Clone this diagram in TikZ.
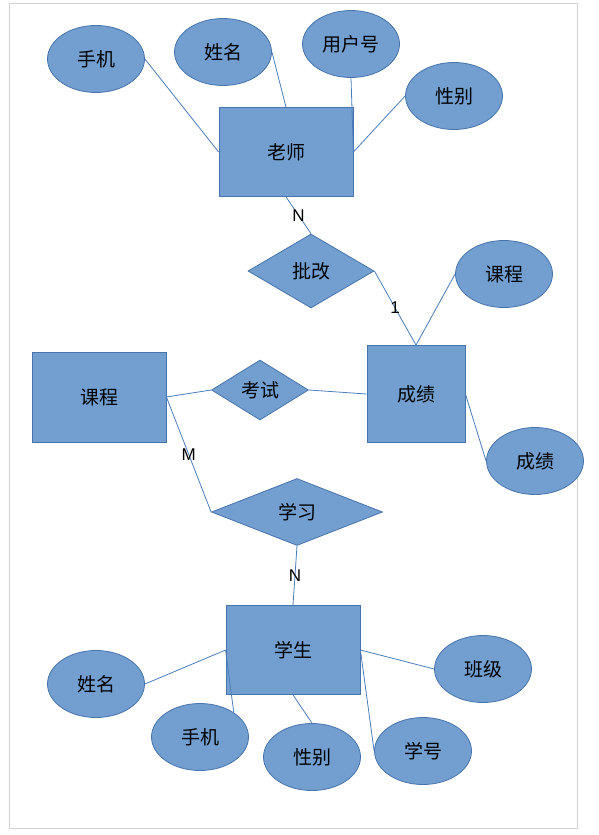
\documentclass[tikz,border=0pt]{standalone}
\usepackage{fontspec}
\setmainfont{Noto Sans CJK SC}
\newfontfamily\latinlbl{Liberation Sans}
\usepackage{tikz}
\usetikzlibrary{shapes,shapes.geometric,calc,positioning}
\definecolor{erfill}{RGB}{114,159,207}
\definecolor{erdraw}{RGB}{72,116,172}
\definecolor{erline}{RGB}{74,126,187}
\tikzset{ent/.style={rectangle,draw=erdraw,fill=erfill,line width=.8pt,inner sep=0pt,minimum width=134pt,minimum height=89pt,font=\fontsize{19}{22}\selectfont}}
\tikzset{att/.style={ellipse,draw=erdraw,fill=erfill,line width=.8pt,inner sep=0pt,minimum width=97pt,minimum height=67pt,font=\fontsize{19}{22}\selectfont}}
\tikzset{rel/.style={diamond,aspect=2,draw=erdraw,fill=erfill,line width=.8pt,inner sep=0pt,font=\fontsize{19}{22}\selectfont}}
\tikzset{lnk/.style={draw=erline,line width=.8pt}}
\tikzset{card/.style={inner sep=0pt,font=\latinlbl\fontsize{17}{20}\selectfont}}

\begin{document}
\begin{tikzpicture}[x=1pt,y=-1pt]
\useasboundingbox (0,0) rectangle (598,835);
\draw[gray!35,line width=.9pt] (9,3) rectangle (577,828);

% 老师
\node [ent] at (286,152) (teacher) {老师};
\node [att] at (96,59) (tphone) {手机};
\node [att] at (223,52) (tname) {姓名};
\node [att] at (351,44) (tuid) {用户号};
\node [att] at (454,96) (tsex) {性别};

% 批改 / 成绩
\node [rel,minimum width=126pt,minimum height=74pt] at (311,271) (correct) {批改};
\node [ent,minimum width=98pt,minimum height=97pt] at (416,394) (score) {成绩};
\node [att] at (504,274) (scourse) {课程};
\node [att] at (535,461) (sscore) {成绩};

% 课程
\node [ent,minimum height=90pt] at (99,397) (course) {课程};
\node [rel,minimum width=97pt,minimum height=60pt] at (260,390) (exam) {考试};
\node [rel,minimum width=171pt,minimum height=67pt] at (297,512) (study) {学习};

% 学生
\node [ent] at (293,650) (student) {学生};
\node [att] at (96,684) (sname) {姓名};
\node [att] at (200,737) (sphone) {手机};
\node [att] at (312,757) (ssex) {性别};
\node [att] at (423,751) (sno) {学号};
\node [att] at (483,669) (sclass) {班级};

\draw [lnk] (tphone.east) -- (teacher.west);
\draw [lnk] (tname.east) -- (teacher.north);
\draw [lnk] (tuid.south) -- (teacher.east);
\draw [lnk] (tsex.west) -- (teacher.east);
\draw [lnk] (teacher.south) -- node[card,midway] (cardN1) {N} (correct.north);
\draw [lnk] (correct.east) -- node[card,midway] (card1) {1} (score.north);
\draw [lnk] (scourse.west) -- (score.north);
\draw [lnk] (score.east) -- (sscore.west);
\draw [lnk] (course.east) -- (exam.west);
\draw [lnk] (exam.east) -- (score.west);
\draw [lnk] (course.east) -- node[card,midway] (cardM) {M} (study.west);
\draw [lnk] (study.south) -- node[card,midway] (cardN2) {N} (student.north);
\draw [lnk] (student.west) -- (sname.east);
\draw [lnk] (student.west) -- (sphone.36);
\draw [lnk] (student.south) -- (ssex.north);
\draw [lnk] (student.east) -- (sno.west);
\draw [lnk] (student.east) -- (sclass.west);
\end{tikzpicture}
\end{document}
